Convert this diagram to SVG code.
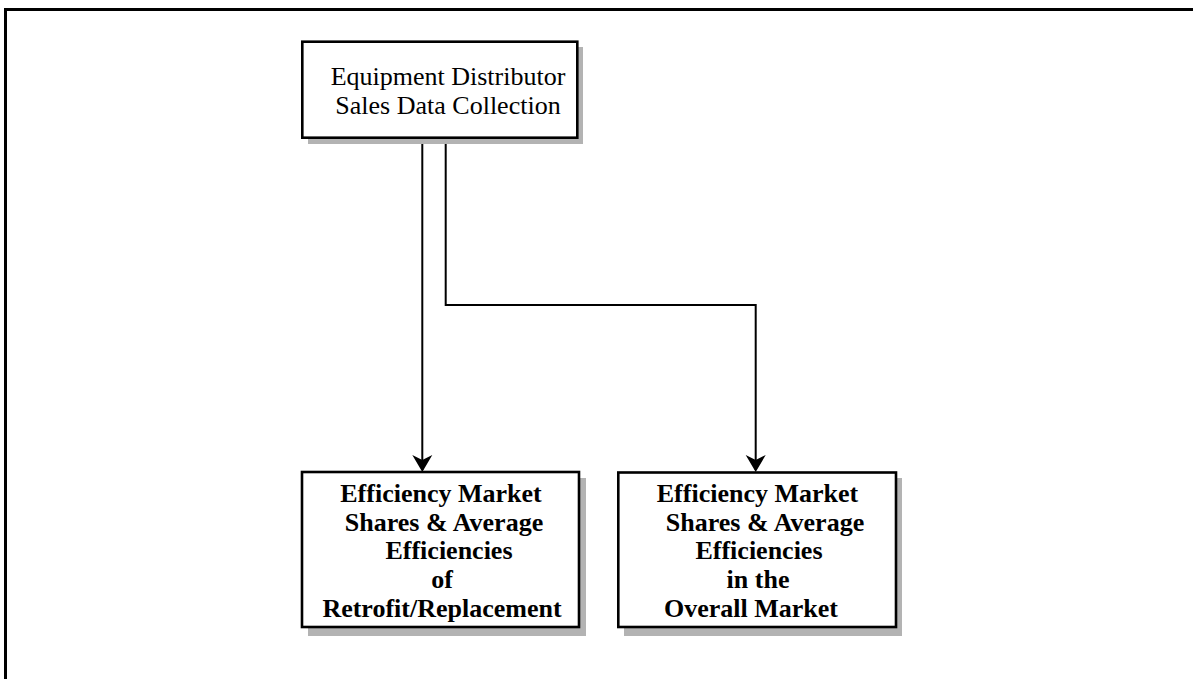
<svg xmlns="http://www.w3.org/2000/svg" width="1193" height="679" viewBox="0 0 1193 679">
  <style>
    .frame { fill: none; stroke: #000; stroke-width: 3; }
    .box { fill: #fff; stroke: #000; stroke-width: 2.6; }
    .shadow { fill: #b3b3b3; }
    .wire { fill: none; stroke: #000; stroke-width: 2; }
    .head { fill: #000; }
    .reg { font-family: "Liberation Serif", "Times New Roman", serif; font-size: 26px; fill: #000; text-anchor: middle; }
    .bold { font-family: "Liberation Serif", "Times New Roman", serif; font-size: 26px; font-weight: bold; fill: #000; text-anchor: middle; }
  </style>
  <rect width="1193" height="679" fill="#fff"/>

  <!-- page frame: top and left edges only -->
  <path class="frame" d="M 5.5 679 L 5.5 9.5 L 1193 9.5"/>

  <g id="connectors">
    <path class="wire" d="M 422.3 144 L 422.3 470"/>
    <path class="wire" d="M 445.7 138 L 445.7 305 L 755.7 305 L 755.7 470"/>
    <path class="head" d="M 412.3 455 L 422.3 460 L 432.3 455 L 422.3 472 Z"/>
    <path class="head" d="M 745.7 455 L 755.7 460 L 765.7 455 L 755.7 472 Z"/>
  </g>

  <g id="source">
    <rect class="shadow" x="308" y="47" width="275" height="97"/>
    <rect class="box" x="302.3" y="41.7" width="275" height="96"/>
    <text class="reg" x="448" y="85">Equipment Distributor</text>
    <text class="reg" x="448" y="114">Sales Data Collection</text>
  </g>

  <g id="retrofit">
    <rect class="shadow" x="308" y="478" width="278" height="158"/>
    <rect class="box" x="302" y="472" width="277" height="155"/>
    <text class="bold" x="441" y="502">Efficiency Market</text>
    <text class="bold" x="444" y="531">Shares &amp; Average</text>
    <text class="bold" x="449" y="559">Efficiencies</text>
    <text class="bold" x="442" y="588">of</text>
    <text class="bold" x="442" y="617">Retrofit/Replacement</text>
  </g>

  <g id="overall">
    <rect class="shadow" x="624" y="478" width="278" height="158"/>
    <rect class="box" x="618.3" y="472.5" width="277.7" height="154.5"/>
    <text class="bold" x="757.5" y="502">Efficiency Market</text>
    <text class="bold" x="765" y="531">Shares &amp; Average</text>
    <text class="bold" x="759" y="559">Efficiencies</text>
    <text class="bold" x="758" y="588">in the</text>
    <text class="bold" x="751" y="617">Overall Market</text>
  </g>
</svg>
